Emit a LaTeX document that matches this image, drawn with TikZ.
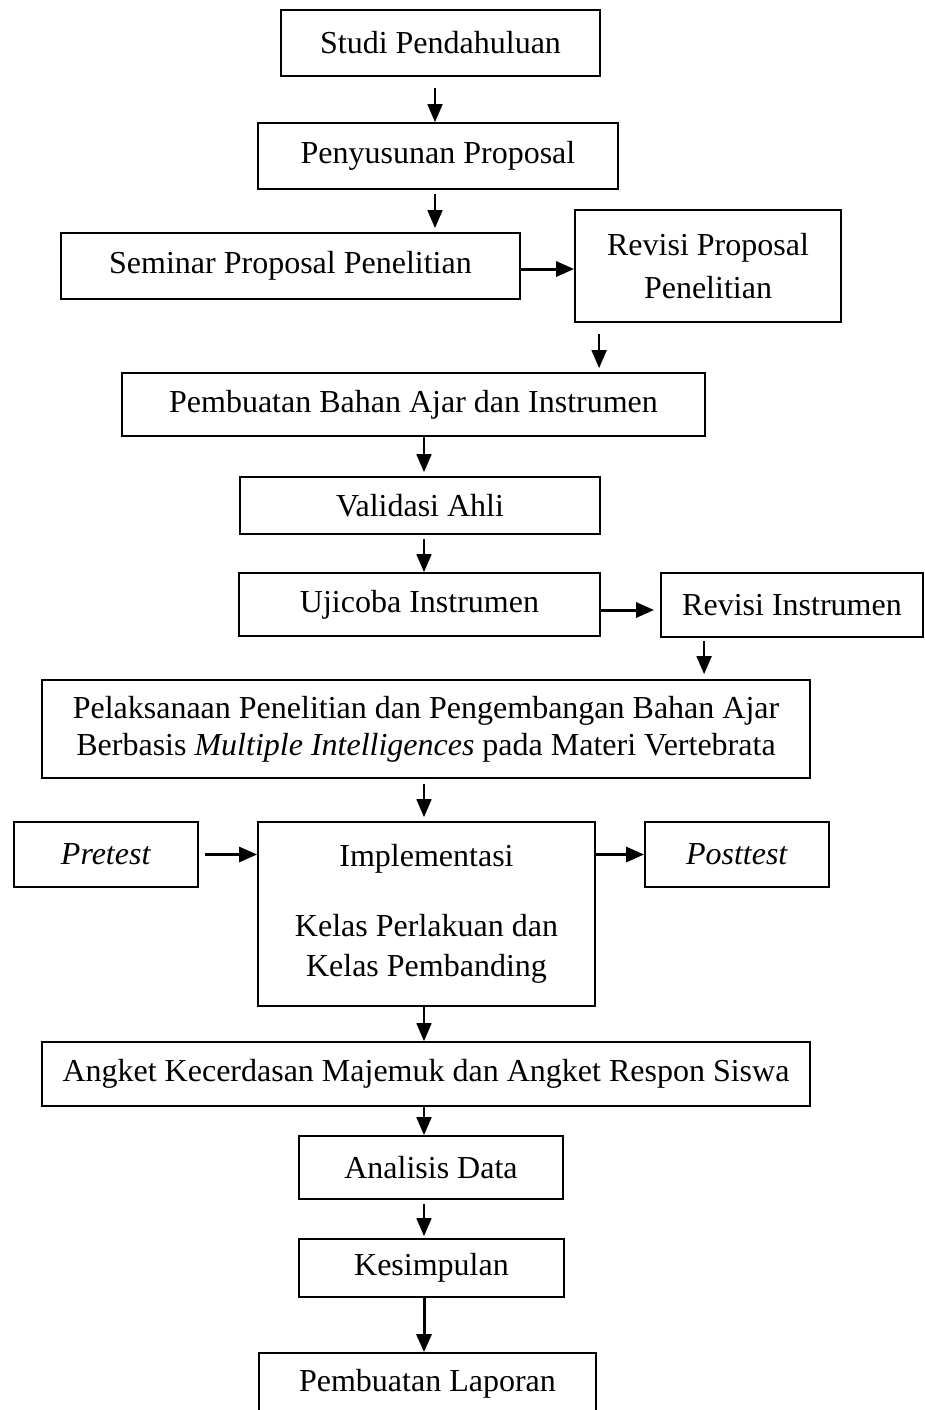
\documentclass[tikz,border=0pt]{standalone}
\usepackage{fontspec}
\setmainfont{Liberation Serif}
\usetikzlibrary{arrows.meta}
\begin{document}
\begin{tikzpicture}[x=0.5pt,y=-0.5pt]
\tikzstyle{every node}=[font=\fontsize{16}{18.5}\selectfont]
\tikzstyle{box}=[draw, line width=0.9pt, align=center, inner sep=0pt]
\tikzstyle{arr}=[-{Triangle[length=9pt,width=7.5pt]}, line width=0.9pt]
\tikzstyle{harr}=[arr, line width=1.5pt]

% fix the page size
\useasboundingbox (0,0) rectangle (925,1410);

% axes of the vertical arrows
\coordinate (top) at (435,0);
\coordinate (mid) at (424,0);

% boxes
\node[box, minimum width=159.5pt, minimum height=33pt] (studi) at (440.5,43) {Studi Pendahuluan};
\node[box, minimum width=180pt, minimum height=33pt] (susun) at (438,156) {Penyusunan Proposal};
\node[box, minimum width=229.5pt, minimum height=33pt] (seminar) at (290.5,266) {Seminar Proposal Penelitian};
\node[box, minimum width=133pt, minimum height=56pt] (revprop) at (708,266) {Revisi Proposal\\[3pt]Penelitian};
\node[box, minimum width=291.5pt, minimum height=31.5pt] (bahan) at (413.5,404.5) {Pembuatan Bahan Ajar dan Instrumen};
\node[box, minimum width=180pt, minimum height=28.5pt] (validasi) at (420,505.5) {Validasi Ahli};
\node[box, minimum width=180.5pt, minimum height=31.5pt] (ujicoba) at (419.5,604.5) {Ujicoba Instrumen};
\node[box, minimum width=131pt, minimum height=32pt] (revins) at (792,605) {Revisi Instrumen};
\node[box, minimum width=384pt, minimum height=49pt] (laksana) at (426,729) {Pelaksanaan Penelitian dan Pengembangan Bahan Ajar\\Berbasis \textit{Multiple Intelligences} pada Materi Vertebrata};
\node[box, minimum width=92pt, minimum height=32.5pt] (pre) at (106,854.5) {\textit{Pretest}};
\node[box, minimum width=168.5pt, minimum height=92pt] (impl) at (426.5,914) {Implementasi\\[16.5pt]Kelas Perlakuan dan\\[1.5pt]Kelas Pembanding};
\node[box, minimum width=92pt, minimum height=32.5pt] (post) at (737,854.5) {\textit{Posttest}};
\node[box, minimum width=384pt, minimum height=32pt] (angket) at (426,1074) {Angket Kecerdasan Majemuk dan Angket Respon Siswa};
\node[box, minimum width=132pt, minimum height=31.5pt] (analisis) at (431,1167.5) {Analisis Data};
\node[box, minimum width=132.5pt, minimum height=29pt] (simpul) at (431.5,1268) {Kesimpulan};
\node[box, minimum width=168.5pt, minimum height=31pt] (lapor) at (427.5,1384) {Pembuatan Laporan};

% arrows
\draw[arr, shorten <=5.5pt] (studi.south -| top) -- (susun.north -| top);
\draw[arr, shorten <=2pt, shorten >=2pt] (susun.south -| top) -- (seminar.north -| top);
\draw[harr] ([yshift=-1.5pt]seminar.east) -- ([yshift=-1.5pt]seminar.east -| revprop.west);
\draw[arr, shorten <=5.5pt, shorten >=2pt] ([xshift=12.5pt]revprop.south west) -- ([xshift=12.5pt]revprop.south west |- bahan.north);
\draw[arr, shorten >=2pt] (bahan.south -| mid) -- (validasi.north -| mid);
\draw[arr, shorten <=2pt] (validasi.south -| mid) -- (ujicoba.north -| mid);
\draw[harr, shorten >=3pt] ([yshift=-2.75pt]ujicoba.east) -- ([yshift=-2.75pt]ujicoba.east -| revins.west);
\draw[arr, shorten <=1.5pt, shorten >=2.5pt] ([xshift=22pt]revins.south west) -- ([xshift=22pt]revins.south west |- laksana.north);
\draw[arr, shorten <=2.5pt, shorten >=2pt] (laksana.south -| mid) -- (impl.north -| mid);
\draw[harr, shorten <=3pt] (pre.east) -- (pre.east -| impl.west);
\draw[harr] (pre.east -| impl.east) -- (post.west);
\draw[arr] (impl.south -| mid) -- (angket.north -| mid);
\draw[arr] (angket.south -| mid) -- (analisis.north -| mid);
\draw[arr, shorten <=2pt, shorten >=1pt] (analisis.south -| mid) -- (simpul.north -| mid);
\draw[harr] (simpul.south -| mid) -- (lapor.north -| mid);

\end{tikzpicture}
\end{document}
